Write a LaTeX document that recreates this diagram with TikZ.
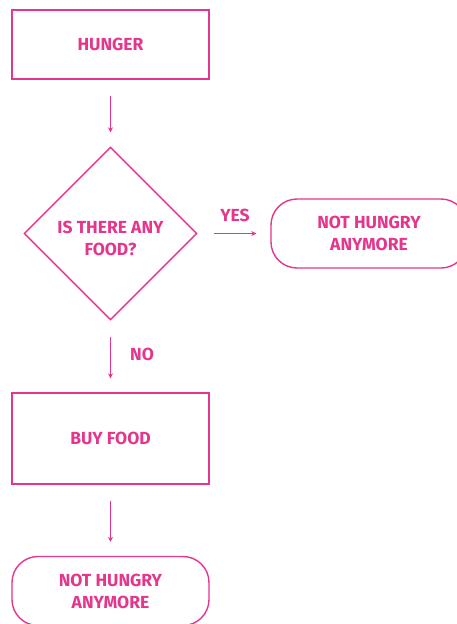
\documentclass[tikz,border=0pt]{standalone}
\usepackage{fontspec}
\setmainfont{Fira Sans}
\usetikzlibrary{shapes.geometric,arrows.meta}
\definecolor{flowpink}{HTML}{E4368C}

\tikzset{
  stepbox/.style={draw=flowpink, line width=1.4pt, text=flowpink,
    minimum width=197pt, minimum height=69pt, inner sep=0pt, align=center,
    font=\fontsize{17.5}{22}\selectfont\bfseries},
  endbox/.style={stepbox, rounded corners=26pt},
  askbox/.style={stepbox, diamond, minimum width=173pt, minimum height=173pt},
  flow/.style={-{Stealth[length=5pt,width=5pt]}, draw=flowpink, line width=1.2pt,
    shorten <=16pt, shorten >=14pt},
  lbl/.style={text=flowpink, font=\fontsize{17.5}{22}\selectfont\bfseries}
}

\begin{document}
\begin{tikzpicture}[x=1pt, y=-1pt]
    \useasboundingbox (0,0) rectangle (456,624);

    \node[stepbox] (hunger) at (110.5,44.5) {HUNGER};
    \node[askbox, label={[lbl, align=center, yshift=-4.5pt]center:IS THERE ANY\\FOOD?}]
        (food) at (110.5,233.5) {};
    \node[endbox, minimum width=196pt] (fullA) at (369,233.5) {NOT HUNGRY\\ANYMORE};
    \node[stepbox, minimum height=91pt] (buy) at (110.5,438.5) {BUY FOOD};
    \node[endbox] (fullB) at (110.5,591) {NOT HUNGRY\\ANYMORE};

    \draw[flow] (hunger) -- (food);
    \draw[flow] (food) -- (fullA);
    \draw[flow] (food) -- (buy);
    \draw[flow] (buy) -- (fullB);

    \node[lbl] (yes) at (235,215) {YES};
    \node[lbl] (no) at (142,354) {NO};
\end{tikzpicture}
\end{document}
